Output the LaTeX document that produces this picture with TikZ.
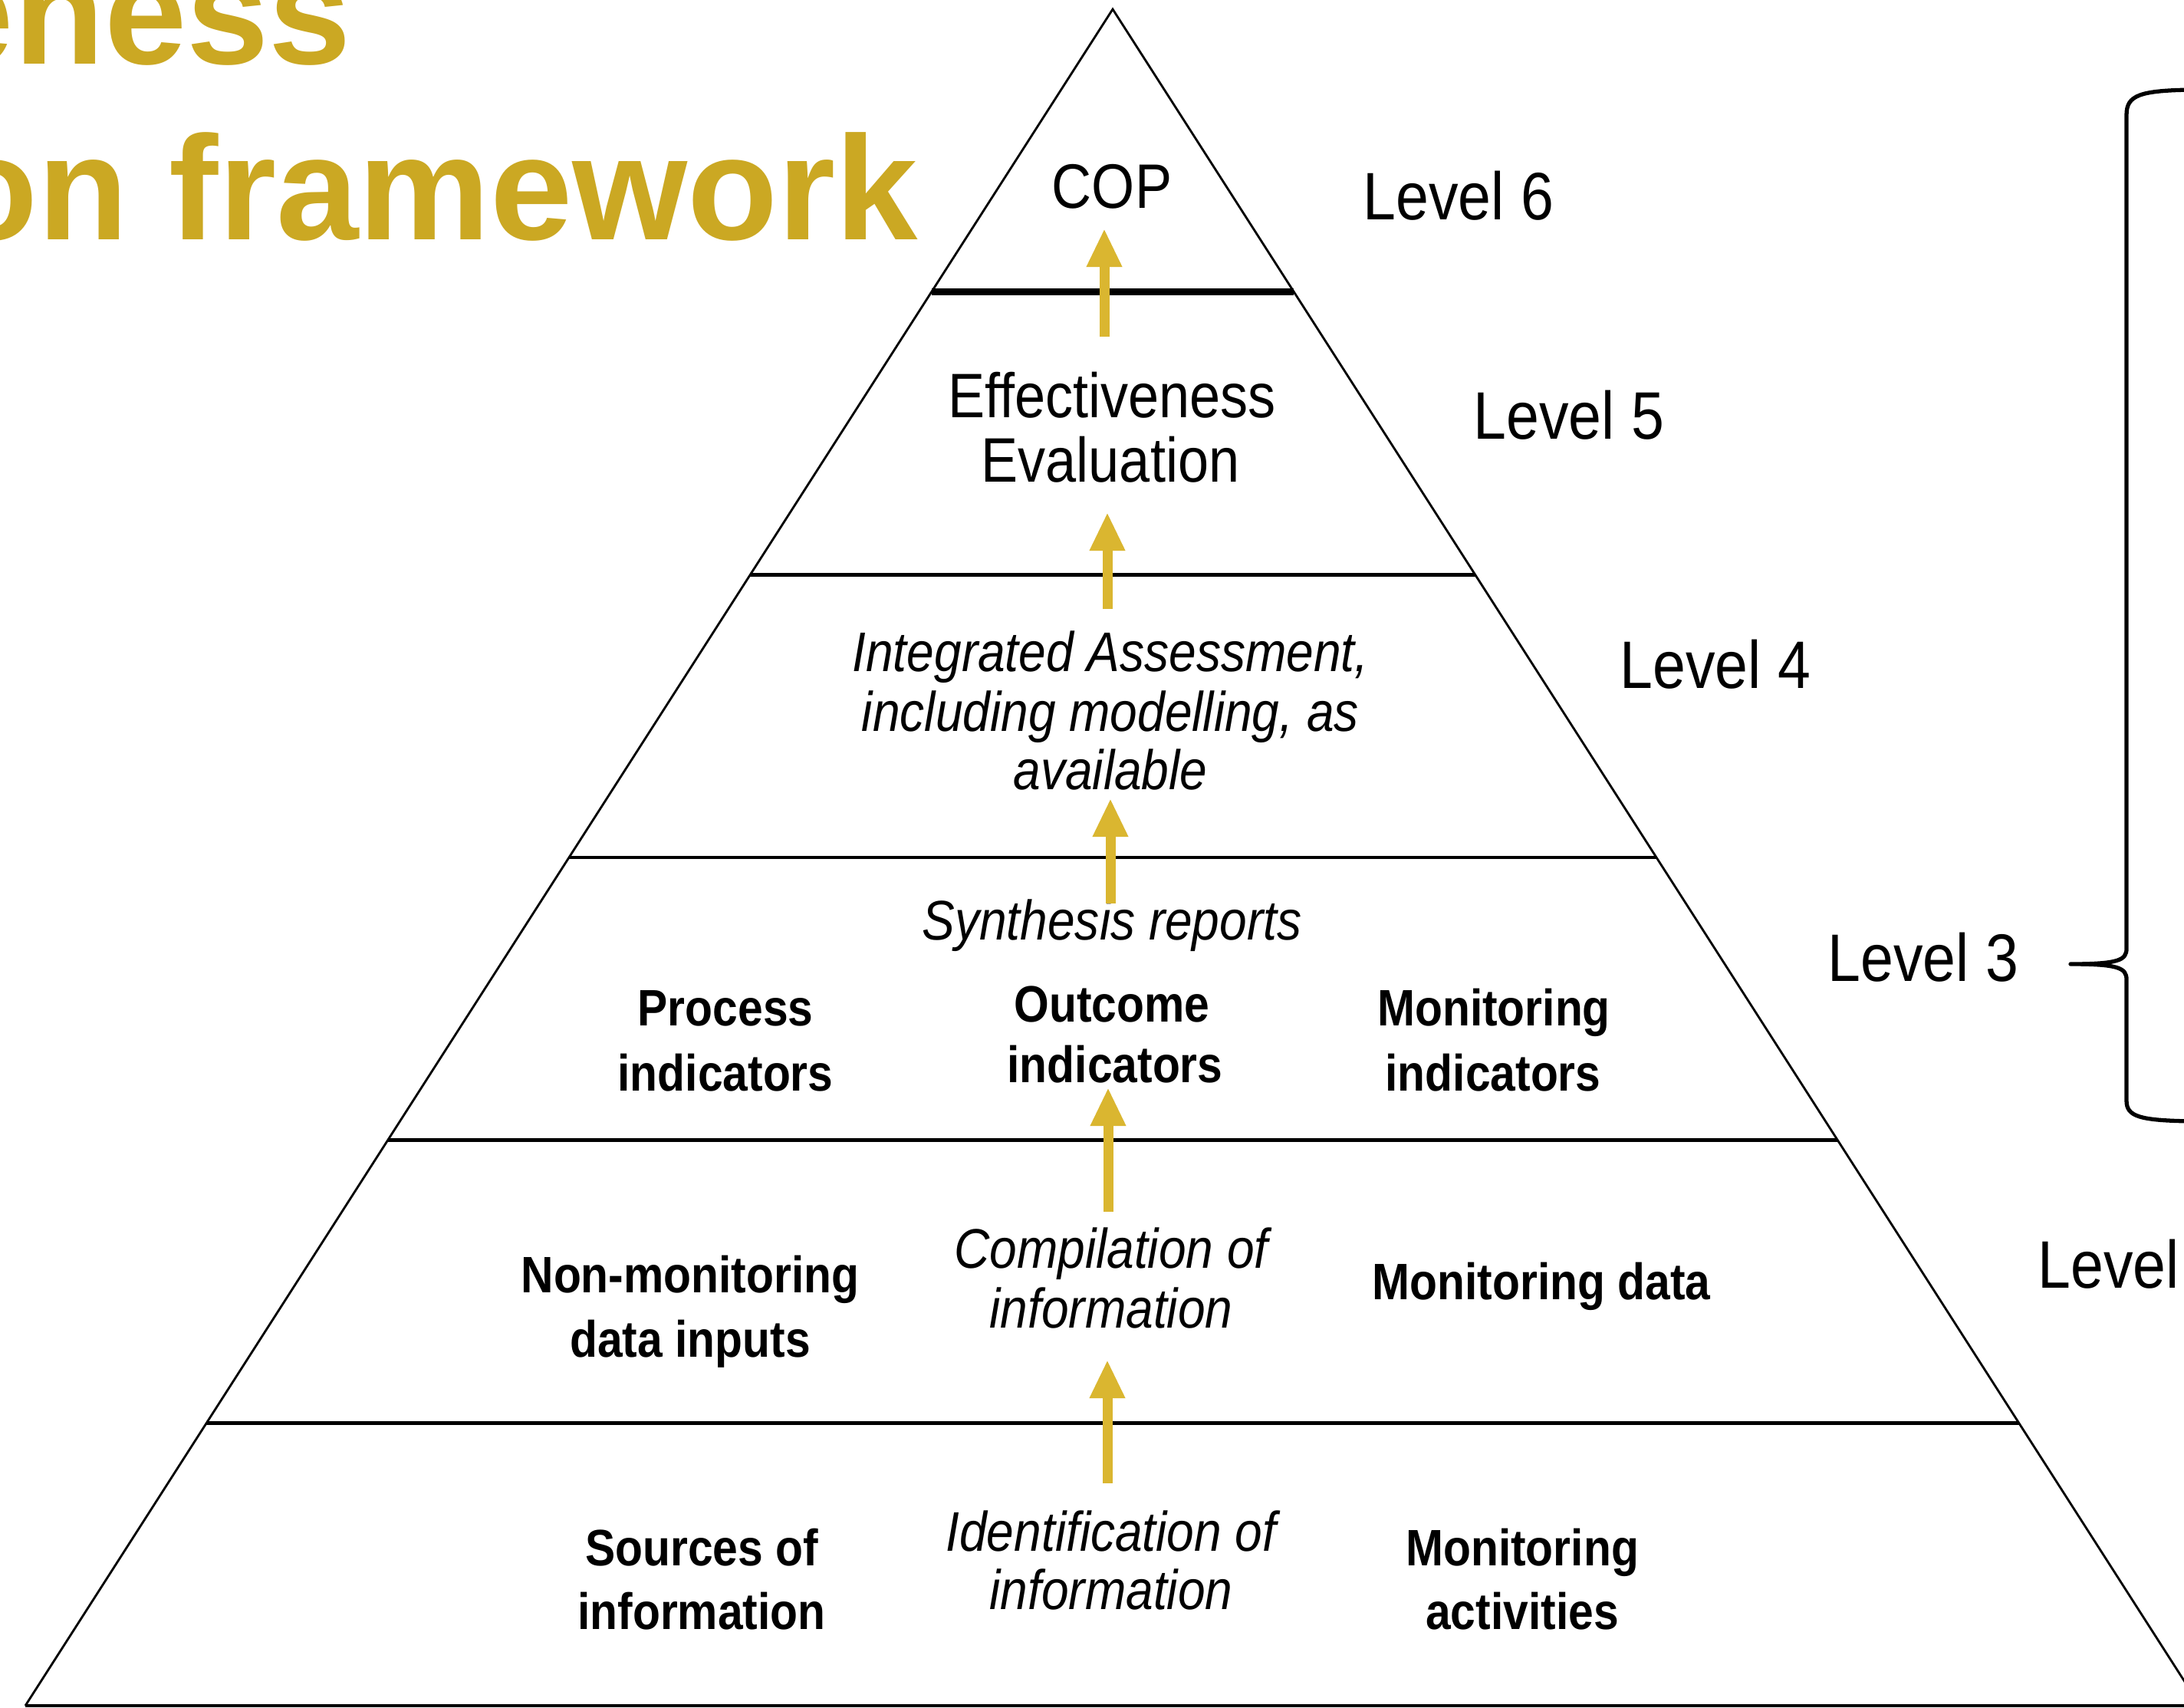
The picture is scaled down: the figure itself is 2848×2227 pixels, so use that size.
\documentclass[tikz,border=0pt]{standalone}
\usepackage{fontspec}
\setmainfont{Liberation Sans}
\newfontfamily\pyr{Liberation Sans}[FakeStretch=0.88]
\usetikzlibrary{arrows.meta,calc}
\definecolor{titlegold}{HTML}{CBA823}
\definecolor{arrowgold}{HTML}{DAB630}
\begin{document}
\begin{tikzpicture}[x=0.01cm,y=-0.01cm,
  lvl/.style={font=\pyr\fontsize{24.9}{28}\selectfont, anchor=base west, inner sep=0pt},
  reg/.style={font=\pyr\fontsize{23.3}{26}\selectfont, anchor=base, inner sep=0pt},
  bld/.style={font=\pyr\bfseries\fontsize{19}{22}\selectfont, anchor=base, inner sep=0pt},
  itl/.style={font=\pyr\itshape\fontsize{20.7}{23}\selectfont, anchor=base, inner sep=0pt},
  ttl/.style={font=\bfseries\fontsize{54.9}{60}\selectfont, text=titlegold, anchor=base east, inner sep=0pt},
  uparrow/.style={draw=arrowgold, line width=3.7pt, -{Triangle[width=0.43cm,length=0.5cm]}},
  divider/.style={line width=1.3pt},
  topdivider/.style={line width=2.6pt},
  side/.style={line width=0.8pt},
  bracepath/.style={line width=1.5pt, line join=round}]
\useasboundingbox (0,0) rectangle (2848,2227);
\clip (0,0) rectangle (2848,2227);
\fill[white] (0,0) rectangle (2848,2227);

% title (cut off at the left edge, as in the reference)
\node[ttl] (t1) at (459,83) {eness};
\node[ttl] (t2) at (1198,312) {on framework};

% pyramid
\coordinate (apex) at (1451,12);
\coordinate (bl) at (33,2224);
\coordinate (br) at (2869,2224);
\draw[side] (bl) -- (apex) -- (br);
\draw[line width=1pt] (bl) -- (br);
\draw[topdivider] ($(apex)!1/6!(bl)$) -- ($(apex)!1/6!(br)$);
\foreach \k in {2,3,4,5}
  \draw[divider] ($(apex)!\k/6!(bl)$) -- ($(apex)!\k/6!(br)$);

% level 6
\node[reg] (cop) at (1450,271) {COP};
% level 5
\node[reg] (eff1) at (1450,544) {Effectiveness};
\node[reg] (eff2) at (1448,628) {Evaluation};
% level 4
\node[itl] (ia1) at (1448,875) {Integrated Assessment,};
\node[itl] (ia2) at (1448,953) {including modelling, as};
\node[itl] (ia3) at (1448,1029) {available};
% level 3
\node[itl] (syn) at (1450,1225) {Synthesis reports};
\node[bld] (proc1) at (946,1337) {Process};
\node[bld] (proc2) at (946,1422) {indicators};
\node[bld] (out1) at (1450,1332) {Outcome};
\node[bld] (out2) at (1454,1411) {indicators};
\node[bld] (mon1) at (1948,1337) {Monitoring};
\node[bld] (mon2) at (1947,1422) {indicators};
% level 2
\node[bld] (nm1) at (900,1685) {Non-monitoring};
\node[bld] (nm2) at (900,1769) {data inputs};
\node[itl] (comp1) at (1449,1653) {Compilation of};
\node[itl] (comp2) at (1449,1731) {information};
\node[bld] (mdata) at (2010,1694) {Monitoring data};
% level 1
\node[bld] (src1) at (915,2041) {Sources of};
\node[bld] (src2) at (915,2124) {information};
\node[itl] (id1) at (1449,2022) {Identification of};
\node[itl] (id2) at (1449,2098) {information};
\node[bld] (act1) at (1985,2041) {Monitoring};
\node[bld] (act2) at (1985,2124) {activities};

% level labels
\node[lvl] (l6) at (1777,286) {Level 6};
\node[lvl] (l5) at (1921,572) {Level 5};
\node[lvl] (l4) at (2112,897) {Level 4};
\node[lvl] (l3) at (2383,1279) {Level 3};
\node[lvl] (l2) at (2657,1679) {Level};

% arrows
\coordinate (a1s) at (1440,439); \coordinate (a1e) at (1440,298);
\coordinate (a2s) at (1444,794); \coordinate (a2e) at (1444,668);
\coordinate (a3s) at (1448,1178); \coordinate (a3e) at (1448,1041);
\coordinate (a4s) at (1445,1580); \coordinate (a4e) at (1445,1418);
\coordinate (a5s) at (1444,1934); \coordinate (a5e) at (1444,1773);
\draw[uparrow] (a1s) -- (a1e);
\draw[uparrow] (a2s) -- (a2e);
\draw[uparrow] (a3s) -- (a3e);
\draw[uparrow] (a4s) -- (a4e);
\draw[uparrow] (a5s) -- (a5e);

% brace
\coordinate (btop) at (2860,117);
\coordinate (btip) at (2700,1257);
\coordinate (bbot) at (2860,1462);
\draw[bracepath] (btop) .. controls (2790,118) and (2773,124) .. (2773,150)
  -- (2773,1237) .. controls (2773,1252) and (2762,1257) .. (btip)
  .. controls (2762,1257) and (2773,1262) .. (2773,1277)
  -- (2773,1435) .. controls (2773,1456) and (2790,1461) .. (bbot);
\end{tikzpicture}
\end{document}
